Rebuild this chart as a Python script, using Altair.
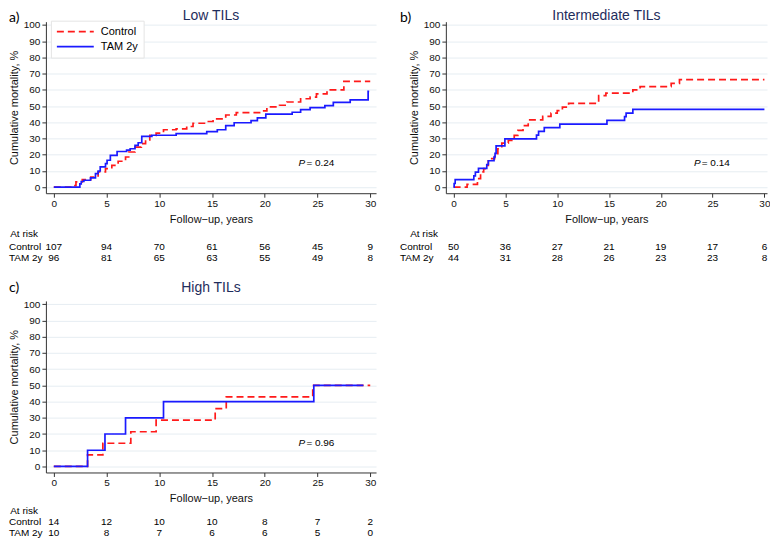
import altair as alt
import pandas as pd

FONT = "Liberation Sans"
LABEL_FONT = "Lato"
RED = "#ff1a1a"
BLUE = "#1a1aff"
NAVY = "#1f2d5c"
GROUPS = ["Control", "TAM 2y"]
X_TICKS = [0, 5, 10, 15, 20, 25, 30]
Y_TICKS = list(range(0, 101, 10))

# ---------------- data: panel a (Low TILs) ----------------
a_ctrl_t = [0, 1.6, 2.1, 2.7, 3.5, 4.2, 4.9, 5.5, 6.1, 6.8, 7.1, 7.7, 8.3, 8.7, 9.1, 9.7, 10.4,
            11.6, 12.6, 13.2, 14.4, 15.1, 16.3, 17.3, 19.9, 20.2, 21.4, 22.1, 23.4, 24.3, 24.9,
            25.9, 27.5, 30.0]
a_ctrl_v = [0, 1, 3.3, 4.7, 6.3, 9.4, 11.5, 13.5, 16, 18.6, 21.7, 24.7, 26.8, 29.2, 31.9, 33.3,
            35.4, 36, 37.4, 39.4, 40.5, 42.1, 44.5, 46, 47, 49.5, 50.5, 52.5, 54.5, 55.5, 57.5,
            60, 65.2, 65.2]
a_tam_t = [0, 2.47, 2.6, 2.85, 3.48, 3.95, 4.2, 4.4, 4.9, 5.05, 5.36, 6.0, 6.9, 7.24, 7.7, 8.0,
           8.34, 9.3, 11.6, 14.5, 15.5, 16.3, 17.1, 18.7, 19.3, 20.1, 22.6, 23.4, 24.3, 25.7,
           26.5, 28.1, 29.8, 29.9]
a_tam_v = [0, 2, 3.5, 4.3, 5.7, 8.4, 10, 12.5, 14.5, 16.6, 19.6, 22, 22.8, 23.7, 25.8, 27.4,
           31.3, 32, 33, 34.2, 35.4, 38, 39.7, 41, 42.7, 45, 46.2, 47.8, 49, 50.3, 52.3, 53.8,
           59, 59]
a_risk_ctrl = [107, 94, 70, 61, 56, 45, 9]
a_risk_tam = [96, 81, 65, 63, 55, 49, 8]

# ---------------- data: panel b (Intermediate TILs) ----------------
b_ctrl_t = [0, 1.3, 2.3, 2.6, 2.9, 3.05, 3.35, 3.96, 4.27, 4.65, 5.28, 5.85, 6.2, 6.7, 7.2, 8.6,
            9.4, 10.0, 10.5, 11.1, 14.0, 14.7, 17.3, 18.0, 21.0, 21.8, 30.0]
b_ctrl_v = [0, 1.8, 5.3, 9.4, 11.5, 13.5, 17.6, 20.7, 23.7, 27.2, 28.8, 31.9, 35, 38, 41.5,
            43.6, 45.6, 47.2, 49.3, 51.7, 56.4, 58, 60, 62, 64, 66.3, 66.3]
b_tam_t = [0, 0.05, 0.15, 1.95, 2.1, 2.4, 3.2, 3.35, 3.9, 4.0, 4.1, 4.95, 8.0, 8.2, 8.75,
           10.25, 14.8, 16.5, 16.65, 17.3, 30.0]
b_tam_v = [0, 2.3, 4.7, 7.0, 9.3, 11.6, 14.0, 16.3, 18.6, 20.9, 25.5, 29.8, 32.1, 34.4, 36.7,
           38.9, 41.2, 43.5, 45.7, 48.0, 48.0]
b_risk_ctrl = [50, 36, 27, 21, 19, 17, 6]
b_risk_tam = [44, 31, 28, 26, 23, 23, 8]

# ---------------- data: panel c (High TILs) ----------------
c_ctrl_t = [0, 3.2, 4.65, 7.3, 9.7, 15.3, 16.35, 24.55, 30.0]
c_ctrl_v = [0, 7.1, 14.3, 21.4, 28.6, 35.7, 42.9, 50, 50]
c_tam_t = [0, 3.2, 4.85, 6.8, 10.4, 24.65, 29.35]
c_tam_v = [0, 10, 20, 30, 40, 50, 50]
c_risk_ctrl = [14, 12, 10, 10, 8, 7, 2]
c_risk_tam = [10, 8, 7, 6, 6, 5, 0]

RISK_T = [0, 5, 10, 15, 20, 25, 30]
P_VALUES = ["= 0.24", "= 0.14", "= 0.96"]

LEGEND = alt.Legend(
    title=None, orient="none", legendX=5, legendY=-1, symbolType="stroke",
    symbolSize=1369, symbolStrokeWidth=1.7, labelFont=FONT, labelFontSize=11,
    labelColor="black", labelOffset=6, rowPadding=3, padding=5, clipHeight=12,
    strokeColor="#e4e4e4", fillColor="white", cornerRadius=0,
)


def make_panel(label, title, ct, cv, tt, tv, rc, rtam, pval, width, show_legend,
               rowlab_x, title_y, label_y, risk_rows, xmax):
    xs = alt.Scale(domain=[-0.75, xmax], nice=False, zero=False)
    ys = alt.Scale(domain=[-3.7, 102.0], nice=False, zero=False)
    leg = LEGEND if show_legend else None
    color = alt.Color("group:N", scale=alt.Scale(domain=GROUPS, range=[RED, BLUE]), legend=leg)
    dash = alt.StrokeDash("group:N", scale=alt.Scale(domain=GROUPS, range=[[7, 4], [1, 0]]),
                          legend=leg)
    xaxis = alt.Axis(values=X_TICKS, title="Follow\u2212up, years", grid=False, tickSize=4,
                     labelPadding=1, titleY=26, titleBaseline="middle", format="d",
                     labelOverlap=False)
    yaxis = alt.Axis(values=Y_TICKS, title="Cumulative mortality, %", grid=True,
                     gridColor="#e6edf2", tickSize=4, labelPadding=2, titleX=-31.5,
                     titleBaseline="middle", format="d", labelOverlap=False)

    ctrl_df = pd.DataFrame({"t": ct, "v": cv, "group": GROUPS[0]})
    tam_df = pd.DataFrame({"t": tt, "v": tv, "group": GROUPS[1]})

    def line(df):
        return alt.Chart(df).mark_line(interpolate="step-after", strokeWidth=1.7).encode(
            x=alt.X("t:Q", scale=xs, axis=xaxis),
            y=alt.Y("v:Q", scale=ys, axis=yaxis),
            color=color, strokeDash=dash,
        )

    risk_df = pd.DataFrame({"t": RISK_T, "ctrl": rc, "tam": rtam})
    ytop, yc, yt = risk_rows

    def risk_text(field, ypix):
        return alt.Chart(risk_df).mark_text(font=FONT, fontSize=10, color="black",
                                            align="center", baseline="middle").encode(
            x=alt.X("t:Q", scale=xs, axis=xaxis), y=alt.value(ypix), text=f"{field}:Q")

    def fixed_text(txt, xpix, ypix, align, size=10, font=FONT, color="black"):
        return alt.Chart(pd.DataFrame({"s": [txt]})).mark_text(
            font=font, fontSize=size, color=color, align=align, baseline="middle").encode(
            x=alt.value(xpix), y=alt.value(ypix), text="s:N")

    p_letter = alt.Chart(pd.DataFrame({"s": ["P"]})).mark_text(
        font=FONT, fontSize=10, fontStyle="italic", align="left", baseline="middle",
        color="black").encode(x=alt.datum(23.2, scale=xs, axis=xaxis),
                              y=alt.datum(14.7, scale=ys, axis=yaxis), text="s:N")
    p_rest = alt.Chart(pd.DataFrame({"s": [pval]})).mark_text(
        font=FONT, fontSize=10, align="left", baseline="middle", color="black").encode(
        x=alt.datum(23.95, scale=xs, axis=xaxis), y=alt.datum(14.7, scale=ys, axis=yaxis),
        text="s:N")

    layers = [
        line(ctrl_df), line(tam_df), p_letter, p_rest,
        risk_text("ctrl", yc), risk_text("tam", yt),
        fixed_text("At risk", -8, ytop, "right"),
        fixed_text("Control", rowlab_x, yc, "left"),
        fixed_text("TAM 2y", rowlab_x, yt, "left"),
        fixed_text(title, width / 2, title_y, "center", size=14, color=NAVY),
        fixed_text(label, rowlab_x, label_y, "left", size=14, font=LABEL_FONT),
    ]
    return alt.layer(*layers).properties(width=width, height=172)


pa = make_panel("a)", "Low TILs", a_ctrl_t, a_ctrl_v, a_tam_t, a_tam_v, a_risk_ctrl,
                a_risk_tam, P_VALUES[0], 331, True, -37, -6, -4, (213.3, 225.7, 237.3), 30.55)
pb = make_panel("b)", "Intermediate TILs", b_ctrl_t, b_ctrl_v, b_tam_t, b_tam_v, b_risk_ctrl,
                b_risk_tam, P_VALUES[1], 322, False, -46, -6, -4, (213.3, 225.7, 237.3), 30.25)
pc = make_panel("c)", "High TILs", c_ctrl_t, c_ctrl_v, c_tam_t, c_tam_v, c_risk_ctrl,
                c_risk_tam, P_VALUES[2], 331, False, -37, -13, -13, (210.5, 222, 233), 30.55)

chart = alt.concat(pa, pb, pc, columns=2, spacing={"row": 108, "column": 70},
                   bounds="flush").resolve_legend(
    color="independent", strokeDash="independent"
).properties(
    padding={"left": 0, "top": 0, "right": 0, "bottom": 0}, background="white"
).configure_view(stroke=None).configure_axis(
    labelFont=FONT, labelFontSize=10, labelColor="#111111", titleFont=FONT,
    titleFontSize=11, titleColor="#111111", titleFontWeight="normal",
    domainColor="#333333", tickColor="#333333",
)

chart.save("out.html", embed_options={"renderer": "svg", "actions": False})
